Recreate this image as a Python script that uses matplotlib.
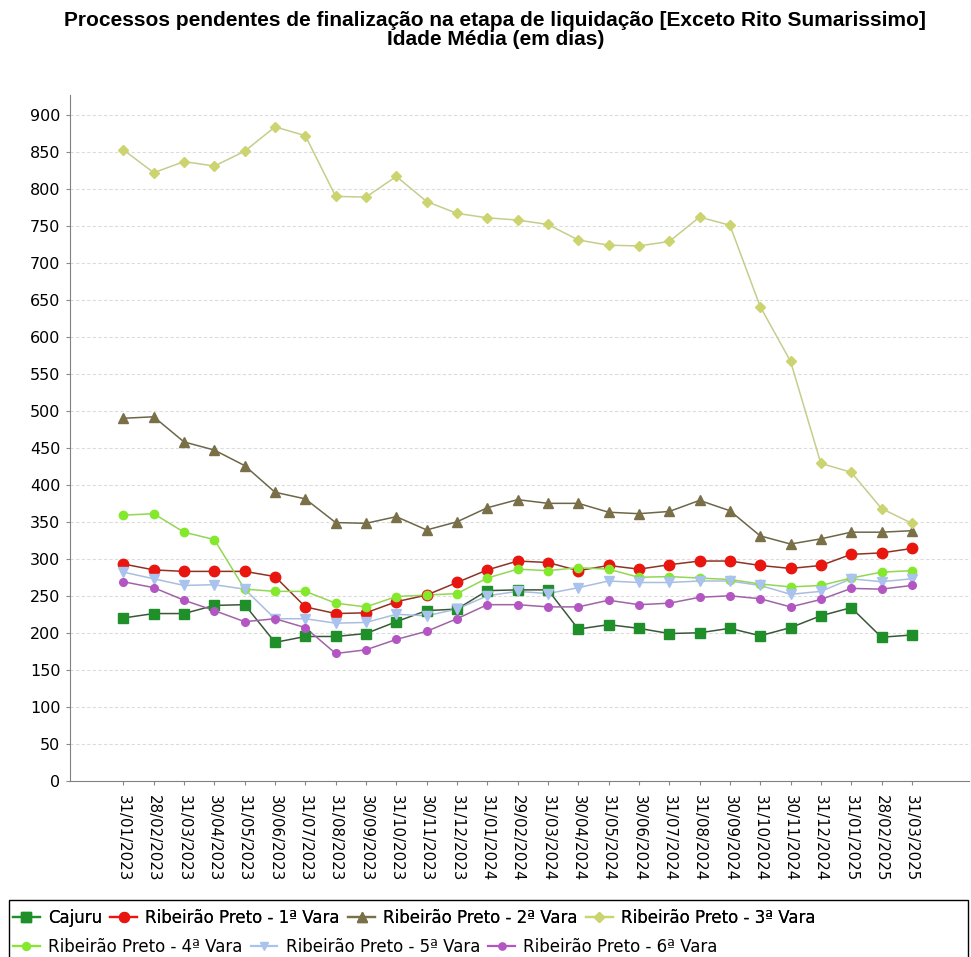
"""
Idade média dos processos pendentes na etapa de liquidação
"""

import matplotlib
matplotlib.use("Agg")
import matplotlib.pyplot as plt
from matplotlib.lines import Line2D
from matplotlib.patches import Rectangle

dates = [
    '31/01/2023', '28/02/2023', '31/03/2023', '30/04/2023', '31/05/2023',
    '30/06/2023', '31/07/2023', '31/08/2023', '30/09/2023', '31/10/2023',
    '30/11/2023', '31/12/2023', '31/01/2024', '29/02/2024', '31/03/2024',
    '30/04/2024', '31/05/2024', '30/06/2024', '31/07/2024', '31/08/2024',
    '30/09/2024', '31/10/2024', '30/11/2024', '31/12/2024', '31/01/2025',
    '28/02/2025', '31/03/2025',
]

cajuru = [220, 226, 226, 237, 238, 187, 195, 195, 199, 215, 230, 232, 257, 258,
          258, 205, 211, 206, 199, 200, 206, 196, 207, 223, 234, 194, 197]
rp_1 = [293, 285, 283, 283, 283, 276, 235, 226, 227, 242, 251, 268, 285, 297,
        295, 284, 291, 286, 292, 297, 297, 291, 287, 291, 306, 308, 314]
rp_2 = [490, 492, 458, 447, 426, 390, 381, 349, 348, 357, 339, 350, 369, 380,
        375, 375, 363, 361, 364, 379, 365, 331, 320, 327, 336, 336, 338]
rp_3 = [853, 822, 837, 831, 851, 884, 872, 790, 789, 817, 783, 767, 761, 758,
        752, 731, 724, 723, 729, 762, 751, 641, 567, 429, 417, 368, 348]
rp_4 = [359, 361, 336, 326, 259, 256, 256, 240, 235, 249, 251, 253, 274, 286,
        284, 288, 286, 275, 276, 274, 272, 266, 262, 264, 274, 282, 284]
rp_5 = [282, 273, 264, 265, 259, 219, 219, 213, 214, 225, 223, 232, 250, 256,
        253, 261, 270, 268, 268, 270, 270, 264, 252, 256, 273, 269, 273]
rp_6 = [269, 261, 244, 230, 215, 219, 207, 172, 177, 191, 202, 219, 238, 238,
        235, 235, 244, 238, 240, 248, 250, 246, 235, 245, 260, 259, 264]

# label, values, marker, size, face colour, line colour
series = [
    ("Cajuru", cajuru, 's', 7.5, '#1f8f2a', '#3a573a'),
    ("Ribeirão Preto - 1ª Vara", rp_1, 'o', 7.5, '#e8160e', '#8e3323'),
    ("Ribeirão Preto - 2ª Vara", rp_2, '^', 7.5, '#7a7048', '#6d6749'),
    ("Ribeirão Preto - 3ª Vara", rp_3, 'D', 5.5, '#cbd46e', '#c6cd8c'),
    ("Ribeirão Preto - 4ª Vara", rp_4, 'o', 6.0, '#84e82c', '#93d654'),
    ("Ribeirão Preto - 5ª Vara", rp_5, 'v', 6.5, '#a9c3ee', '#a9bedf'),
    ("Ribeirão Preto - 6ª Vara", rp_6, 'o', 5.5, '#b356c4', '#a064a6'),
]

fig = plt.figure(figsize=(9.71, 9.57), dpi=100)
ax = fig.add_axes([0.0721, 0.1842, 0.926, 0.7165])

x = list(range(len(dates)))
handles = []
for label, values, marker, size, face, line in series:
    ax.plot(x, values, color=line, linewidth=1.1, zorder=2)
    ax.plot(x, values, linestyle='none', marker=marker, markersize=size,
            markerfacecolor=face, markeredgecolor=face, zorder=3)
    handles.append(Line2D([], [], color=face, linewidth=1.6, marker=marker,
                          markersize=size * 0.95, markerfacecolor=face,
                          markeredgecolor=face, label=label))

ax.set_xlim(-1.76, 27.89)
ax.set_ylim(0, 927)
ax.set_yticks(range(0, 901, 50))
ax.set_xticks(x)
ax.set_xticklabels(dates, rotation=-90, fontsize=10.8)
ax.tick_params(axis='y', labelsize=11.5, length=3, pad=4, color='#888888')
ax.tick_params(axis='x', length=3, pad=7, color='#888888')
ax.yaxis.grid(True, color='#dcdcdc', linewidth=0.8, linestyle=(0, (3, 2)))
ax.set_axisbelow(True)
for side in ('top', 'right'):
    ax.spines[side].set_visible(False)
for side in ('left', 'bottom'):
    ax.spines[side].set_color('#808080')

fig.text(0.51, 0.9687, "Processos pendentes de finalização na etapa de "
         "liquidação [Exceto Rito Sumarissimo]\nIdade Média (em dias)",
         ha='center', va='center', fontsize=15, fontweight='bold',
         family='Liberation Sans', linespacing=0.98)

# legend box with flowing rows
fig.patches.append(Rectangle((0.0093, -0.01), 0.988, 0.0696,
                             transform=fig.transFigure, fill=False,
                             edgecolor='black', linewidth=1.0))
legend_opts = dict(frameon=False, fontsize=12, handlelength=1.6,
                   handletextpad=0.5, columnspacing=0.5,
                   borderaxespad=0, borderpad=0)
row1 = fig.legend(handles=handles[:4], ncol=4, loc='center left',
                  bbox_to_anchor=(0.0134, 0.0410), **legend_opts)
fig.add_artist(row1)
fig.legend(handles=handles[4:], ncol=3, loc='center left',
           bbox_to_anchor=(0.0134, 0.0108), **legend_opts)

fig.savefig('out.png', dpi=100)
